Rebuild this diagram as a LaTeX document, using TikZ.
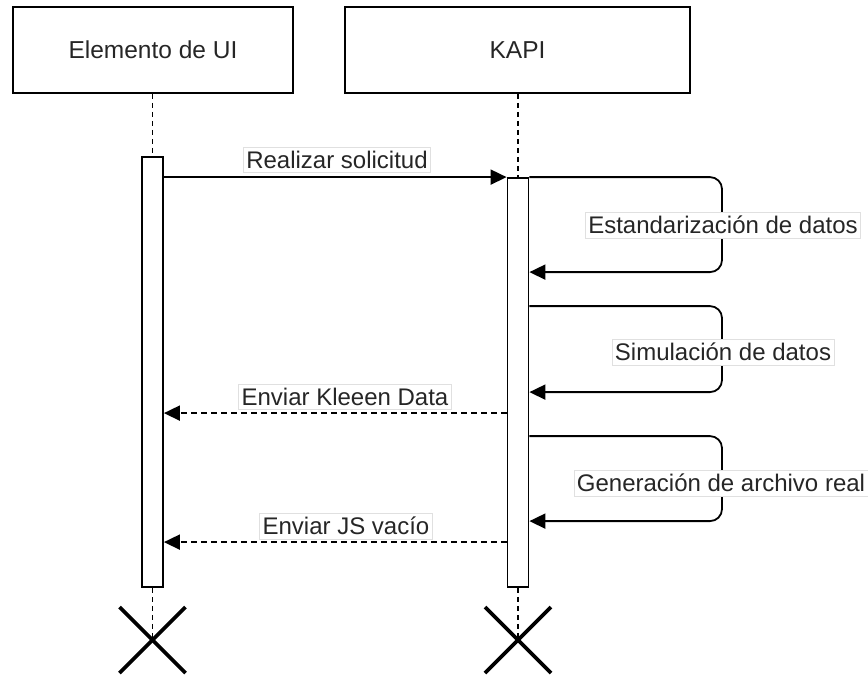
\documentclass[tikz,border=0pt]{standalone}
\usepackage{fontspec}
\setmainfont{Liberation Sans}
\usetikzlibrary{arrows.meta,calc}
\begin{document}
\begin{tikzpicture}[x=1pt,y=-1pt,
  actor/.style={draw, line width=1.8pt, minimum height=86pt, inner sep=0pt,
    font=\fontsize{24.5}{28}\selectfont, text=black!85},
  activation/.style={draw, fill=white, line width=1.8pt, minimum width=21pt, inner sep=0pt},
  lifeline/.style={line width=1.3pt, dash pattern=on 5pt off 4pt},
  msg/.style={line width=1.8pt, -{Triangle[length=16pt,width=15pt]}},
  reply/.style={msg, dash pattern=on 6pt off 4pt},
  selfmsg/.style={msg, rounded corners=12pt},
  lbl/.style={fill=white, draw=black!12, line width=0.8pt, inner xsep=3pt, inner ysep=4pt,
    font=\fontsize{24}{28}\selectfont, text=black!85},
  endmark/.style={line width=3.6pt}]

\useasboundingbox (0,0) rectangle (868,675);

% participants
\node[actor, minimum width=280pt] (ui) at (153,50) {Elemento de UI};
\node[actor, minimum width=345pt] (kapi) at (517.5,50) {KAPI};

% activation bars
\node[activation, minimum height=430pt] (act1) at (152.5,372) {};
\node[activation, minimum height=409pt] (act2) at (518,382.5) {};

% destruction marks
\coordinate (end1) at (152.5,640);
\coordinate (end2) at (518,640);

% lifelines
\draw[lifeline] (ui.south -| act1.north) -- (act1.north);
\draw[lifeline] (act1.south) -- (end1);
\draw[lifeline] (kapi.south -| act2.north) -- (act2.north);
\draw[lifeline] (act2.south) -- (end2);

\foreach \e in {end1,end2}{
  \draw[endmark] ($(\e)+(-33,-33)$) -- ($(\e)+(33,33)$);
  \draw[endmark] ($(\e)+(-33,33)$) -- ($(\e)+(33,-33)$);
}

% request
\draw[msg] (act1.east |- act2.north) -- (act2.north west);
\node[lbl] (l1) at (337,160) {Realizar solicitud};

% self calls on KAPI
\coordinate (s1a) at (act2.north east);
\coordinate (s1b) at ($(act2.north east)+(0,95)$);
\coordinate (s2a) at ($(act2.north east)+(0,129)$);
\coordinate (s2b) at ($(act2.north east)+(0,215)$);
\coordinate (s3a) at ($(act2.north east)+(0,259)$);
\coordinate (s3b) at ($(act2.north east)+(0,344)$);

\draw[selfmsg] (s1a) -- (s1a -| 722,0) -- (s1b -| 722,0) -- (s1b);
\node[lbl] (l2) at (723,225) {Estandarización de datos};

\draw[selfmsg] (s2a) -- (s2a -| 722,0) -- (s2b -| 722,0) -- (s2b);
\node[lbl] (l3) at (723,352) {Simulación de datos};

\draw[selfmsg] (s3a) -- (s3a -| 722,0) -- (s3b -| 722,0) -- (s3b);
\node[lbl] (l5) at (721,483) {Generación de archivo real};

% replies
\coordinate (r1) at ($(act2.north west)+(0,236)$);
\coordinate (r2) at ($(act2.north west)+(0,365)$);
\draw[reply] (r1) -- (r1 -| act1.east);
\node[lbl] (l4) at (345,397) {Enviar Kleeen Data};
\draw[reply] (r2) -- (r2 -| act1.east);
\node[lbl] (l6) at (346,526) {Enviar JS vacío};

\end{tikzpicture}
\end{document}
